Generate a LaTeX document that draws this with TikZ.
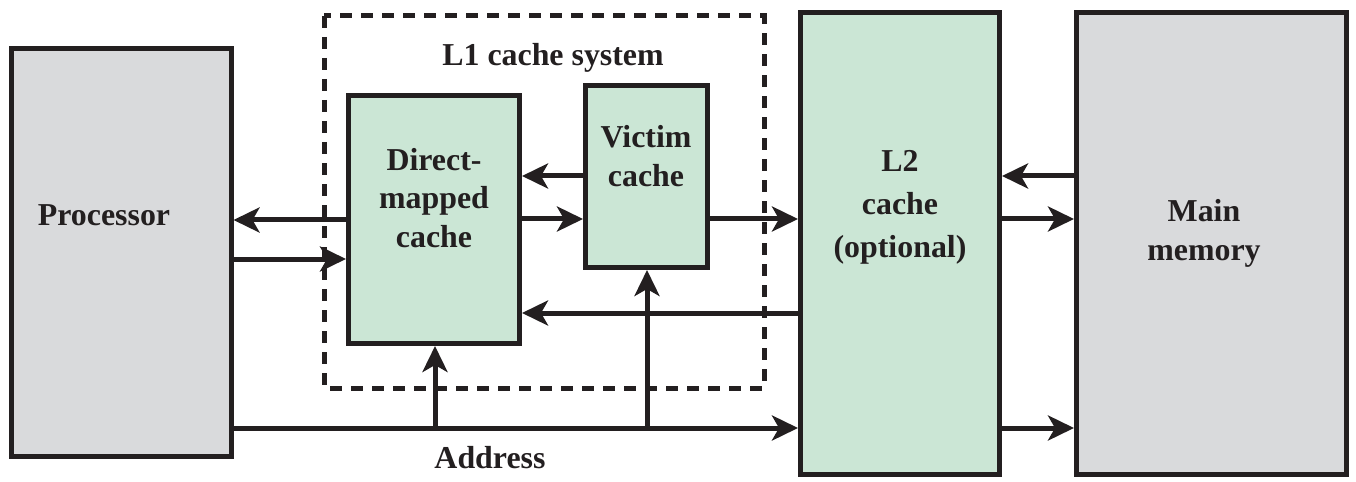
\documentclass[tikz,border=0pt]{standalone}
\usepackage{fontspec}
\setmainfont{Liberation Serif}
\usetikzlibrary{arrows.meta}

\definecolor{inkcol}{HTML}{231F20}
\definecolor{grayfill}{HTML}{D9DADC}
\definecolor{greenfill}{HTML}{CBE6D5}

\tikzset{
  unit/.style={draw=inkcol, line width=5bp, rectangle, inner sep=0pt},
  grayunit/.style={unit, fill=grayfill},
  greenunit/.style={unit, fill=greenfill},
  lbl/.style={font=\fontsize{32}{39}\selectfont\bfseries, text=inkcol, align=center, inner sep=0pt},
  link/.style={draw=inkcol, line width=5bp, -{Stealth[length=26bp,width=25bp,inset=7bp]}},
  bus/.style={draw=inkcol, line width=5bp}
}

\begin{document}
\begin{tikzpicture}[x=1bp,y=-1bp]
\useasboundingbox (0,0) rectangle (1356,482);

% L1 boundary
\draw[draw=inkcol, line width=5bp, dash pattern=on 12bp off 9bp] (324,16) rectangle (764,388);
\node[lbl] (l1txt) at (553,58) {L1 cache system};

% units
\node[grayunit, minimum width=219bp, minimum height=407bp] (proc) at (121.5,252.5) {};
\node[greenunit, minimum width=171bp, minimum height=248bp] (dmc) at (434,219.5) {};
\node[greenunit, minimum width=122bp, minimum height=182bp] (vic) at (646.5,176.5) {};
\node[greenunit, minimum width=199bp, minimum height=462bp] (ltwo) at (900,243.5) {};
\node[grayunit, minimum width=270bp, minimum height=462bp] (mem) at (1211.5,243.5) {};

% labels
\node[lbl] (proctxt) at (104,215) {Processor};
\node[lbl] (dmctxt) at (434,198) {Direct-\\mapped\\cache};
\node[lbl] (victxt) at (646,156) {Victim\\cache};
\node[lbl, font=\fontsize{32}{43}\selectfont\bfseries] (ltwotxt) at (900,207) {L2\\cache\\(optional)};
\node[lbl] (memtxt) at (1204,233) {Main\\memory};

% data paths
\draw[link] (dmc.west |- 0,220) -- (proc.east |- 0,220);
\draw[link] (proc.east |- 0,259) -- (dmc.west |- 0,259);
\draw[link] (vic.west |- 0,176) -- (dmc.east |- 0,176);
\draw[link] (dmc.east |- 0,219) -- (vic.west |- 0,219);
\draw[link] (vic.east |- 0,219) -- (ltwo.west |- 0,219);
\draw[link] (ltwo.west |- 0,313) -- (dmc.east |- 0,313);
\draw[link] (mem.west |- 0,176) -- (ltwo.east |- 0,176);
\draw[link] (ltwo.east |- 0,219) -- (mem.west |- 0,219);
\draw[link] (ltwo.east |- 0,428) -- (mem.west |- 0,428);

% address bus
\coordinate (tapa) at (435,428);
\coordinate (tapb) at (647,428);
\draw[link] (proc.east |- tapa) -- (ltwo.west |- tapa);
\draw[link] (tapa) -- (tapa |- dmc.south);
\draw[link] (tapb) -- (tapb |- vic.south);
\node[lbl] (addrtxt) at (490,458) {Address};
\end{tikzpicture}
\end{document}
